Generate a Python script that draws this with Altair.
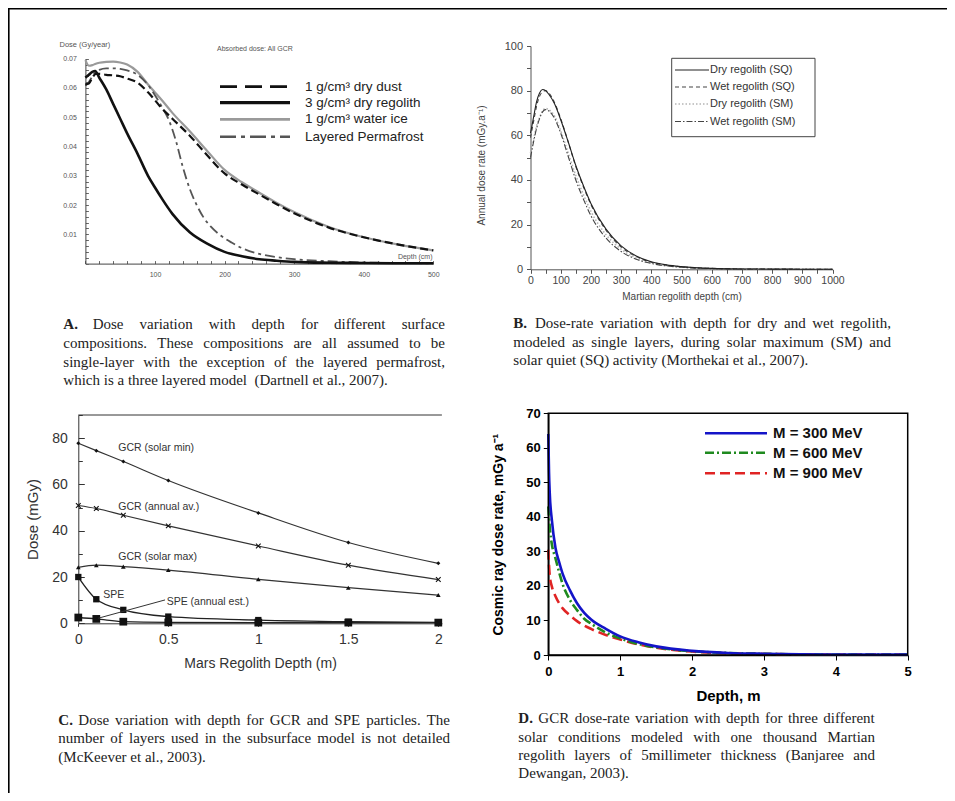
import altair as alt
import pandas as pd

# ---------------- Panel A: depth (cm) vs dose (Gy/year) ----------------
a_dust_x = [0, 5, 10, 15, 20, 30, 40, 50, 60, 75, 90, 100, 110, 125, 150, 175, 200, 225, 250, 275, 300, 350, 400, 450, 500]
a_dust_y = [0.0612, 0.0615, 0.0635, 0.0648, 0.0648, 0.0645, 0.0643, 0.064, 0.0632, 0.0618, 0.0585, 0.0558, 0.053, 0.0495,
            0.0437, 0.037, 0.0308, 0.027, 0.0236, 0.0203, 0.0172, 0.0123, 0.009, 0.0065, 0.0045]
a_reg_x = [0, 5, 10, 14, 20, 30, 40, 50, 60, 75, 90, 100, 110, 125, 150, 175, 200, 225, 250, 275, 300, 350, 400, 450, 500]
a_reg_y = [0.0635, 0.0645, 0.0655, 0.0658, 0.0635, 0.0595, 0.0545, 0.0495, 0.0445, 0.0375, 0.030, 0.026, 0.0222, 0.017,
           0.0107, 0.0068, 0.004, 0.0025, 0.0015, 0.001, 0.0006, 0.0003, 0.0002, 0.0001, 0.0001]
a_ice_x = [0, 5, 10, 15, 20, 30, 40, 50, 60, 75, 90, 100, 110, 125, 150, 175, 200, 225, 250, 275, 300, 350, 400, 450, 500]
a_ice_y = [0.0695, 0.0676, 0.0678, 0.0683, 0.0686, 0.0689, 0.069, 0.0687, 0.068, 0.0655, 0.0612, 0.0585, 0.0558, 0.0515,
           0.0452, 0.0385, 0.032, 0.0278, 0.0242, 0.0207, 0.0176, 0.0125, 0.009, 0.0065, 0.0045]
a_perm_x = [0, 5, 10, 15, 20, 30, 40, 50, 60, 75, 90, 100, 110, 120, 130, 140, 150, 160, 170, 180, 195, 210, 225, 250,
            275, 300, 350, 400, 450, 500]
a_perm_y = [0.0608, 0.062, 0.064, 0.0655, 0.0662, 0.0667, 0.0667, 0.0665, 0.066, 0.0645, 0.061, 0.0575, 0.0535, 0.049,
            0.042, 0.033, 0.0255, 0.020, 0.0157, 0.0127, 0.0095, 0.0072, 0.0053, 0.0033, 0.0022, 0.0015, 0.0008, 0.0004,
            0.0002, 0.0001]
a_labels = ["1 g/cm\u00b3 dry dust", "3 g/cm\u00b3 dry regolith", "1 g/cm\u00b3 water ice", "Layered Permafrost"]

# ---------------- Panel B: depth (cm) vs annual dose rate ----------------
b_x = [0, 10, 20, 30, 40, 50, 60, 80, 100, 125, 150, 175, 200, 250, 300, 350, 400, 450, 500, 600, 700, 800, 900, 1000]
b_dry_sq = [61, 68, 75, 79, 80.5, 80, 78.5, 74, 67, 57, 46.5, 37.5, 29.5, 18, 10.5, 6, 3.4, 2, 1.2, 0.4, 0.15, 0.1, 0.05, 0.05]
b_wet_sq = [59, 66, 73, 77.5, 79.5, 80, 79, 74.5, 67.5, 57, 46, 37, 29, 17.5, 10, 5.7, 3.2, 1.9, 1.1, 0.4, 0.15, 0.1, 0.05, 0.05]
b_dry_sm = [52, 58, 64, 68, 71, 72, 71.5, 68.5, 62, 52, 42, 33.5, 26, 15.5, 9, 5, 2.9, 1.7, 1, 0.35, 0.1, 0.05, 0.05, 0.05]
b_wet_sm = [50, 57, 63, 67.5, 70.5, 71.5, 71, 67.5, 61, 50.5, 40, 31.5, 24, 14, 8, 4.5, 2.6, 1.5, 0.9, 0.3, 0.1, 0.05, 0.05, 0.05]
b_labels = ["Dry regolith (SQ)", "Wet regolith (SQ)", "Dry regolith (SM)", "Wet regolith (SM)"]

# ---------------- Panel C: Mars regolith depth (m) vs dose (mGy) ----------------
c_x = [0, 0.1, 0.25, 0.5, 1, 1.5, 2]
c_gcr_min = [77.8, 74.6, 69.9, 61.7, 47.7, 34.9, 25.9]
c_gcr_avg = [50.9, 49.6, 46.7, 42.1, 33.4, 25.1, 18.9]
c_gcr_max = [24.2, 25.1, 24.5, 23.0, 19.0, 15.4, 12.2]
c_spe = [20.0, 10.4, 5.8, 2.9, 1.4, 0.7, 0.4]
c_spe_annual = [2.5, 1.9, 0.7, 0.4, 0.3, 0.3, 0.3]
c_notes = ["GCR (solar min)", "GCR (annual av.)", "GCR (solar max)", "SPE", "SPE (annual est.)"]
c_note_x = [0.222, 0.222, 0.222, 0.139, 0.491]
c_note_y = [75.7, 50.4, 28.8, 12.2, 9.3]
c_leader_x = [0.482, 0.111]
c_leader_y = [10.1, 2.2]

# ---------------- Panel D: depth (m) vs cosmic ray dose rate ----------------
d_x = [0, 0.01, 0.02, 0.05, 0.1, 0.15, 0.2, 0.3, 0.4, 0.5, 0.6, 0.8, 1.0, 1.25, 1.5, 2, 2.5, 3, 3.5, 4, 4.5, 5]
d_300 = [64, 53, 47, 39, 31, 27, 23.5, 18.8, 15, 12.2, 10.2, 7.6, 5.4, 3.7, 2.5, 1.2, 0.6, 0.35, 0.2, 0.15, 0.1, 0.1]
d_600 = [43, 40, 37, 32, 28, 24, 20.5, 16, 13, 10.5, 9, 6.5, 4.8, 3.2, 2.2, 1.1, 0.6, 0.35, 0.2, 0.15, 0.1, 0.1]
d_900 = [30.5, 26, 23, 19.8, 17, 15, 13.5, 11.5, 9.8, 8.5, 7.5, 5.8, 4.5, 3.1, 2.1, 1.0, 0.5, 0.3, 0.2, 0.1, 0.1, 0.1]
d_labels = ["M = 300 MeV", "M = 600 MeV", "M = 900 MeV"]

# ---------------- captions ----------------
cap_a = ["A.", "Dose variation with depth for different surface",
         "compositions. These compositions are all assumed to be",
         "single-layer with the exception of the layered permafrost,",
         "which is a three layered model  (Dartnell et al., 2007)."]
cap_b = ["B.", "Dose-rate variation with depth for dry and wet regolith,",
         "modeled as single layers, during solar maximum (SM) and",
         "solar quiet (SQ) activity (Morthekai et al., 2007)."]
cap_c = ["C.", "Dose variation with depth for GCR and SPE particles.  The",
         "number of layers used in the subsurface model is not detailed",
         "(McKeever et al., 2003)."]
cap_d = ["D.", "GCR dose-rate variation with depth for three different",
         "solar conditions modeled with one thousand Martian",
         "regolith layers of 5millimeter thickness  (Banjaree and",
         "Dewangan, 2003)."]

W, H = 939, 785
ONE = pd.DataFrame({"k": [0]})
SANS = "Liberation Sans"
SERIF = "Liberation Serif"

# Times-compatible advance widths (1/1000 em) used to justify the caption lines
_TW = {" ": 250, "(": 333, ")": 333, ",": 250, "-": 333, ".": 250, "A": 722, "B": 667, "C": 667, "D": 722,
       "E": 611, "G": 722, "K": 722, "M": 889, "P": 556, "Q": 722, "R": 667, "S": 556, "T": 611, "W": 944,
       "a": 444, "b": 500, "c": 444, "d": 500, "e": 444, "f": 333, "g": 500, "h": 500, "i": 278, "j": 278,
       "k": 500, "l": 278, "m": 778, "n": 500, "o": 500, "p": 500, "q": 500, "r": 333, "s": 389, "t": 278,
       "u": 500, "v": 500, "w": 722, "x": 500, "y": 500, "z": 444}


def tw(s, fs):
    return sum(_TW.get(ch, 500) for ch in s) * fs / 1000.0


def df(xs, ys):
    return pd.DataFrame({"x": xs, "y": ys})


def text_mark(s, x, y, size, color="#000", weight="normal", align="left", font=SANS, baseline="middle"):
    return alt.Chart(ONE).mark_text(text=s, font=font, fontSize=size, fontWeight=weight, color=color,
                                    align=align, baseline=baseline).encode(x=alt.value(x), y=alt.value(y))


def rule_mark(x1, x2, y1, y2, color, width, dash=None):
    kw = dict(color=color, strokeWidth=width)
    if dash:
        kw["strokeDash"] = dash
    return alt.Chart(ONE).mark_rule(**kw).encode(x=alt.value(x1), x2=alt.value(x2), y=alt.value(y1), y2=alt.value(y2))


def line(X, Y, xs, ys, color, width, dash=None):
    kw = dict(color=color, strokeWidth=width, interpolate="monotone")
    if dash:
        kw["strokeDash"] = dash
    return alt.Chart(df(xs, ys)).mark_line(**kw).encode(x=X, y=Y)


# ======================= Panel A =======================
A_x0, A_x1, A_y0, A_y1 = 77.4, 425.3, 255.6, 50.7
A_yaxis = alt.Axis(orient="right", offset=A_x0 - W, values=[round(0.002 * i, 3) for i in range(36)],
                   labelExpr="(round(datum.value*1000) % 10 == 0 && datum.value > 0) ? format(datum.value, '.2f') : ''",
                   tickSize=3, grid=False, domainColor="#444", tickColor="#666", labelColor="#555", labelFont=SANS,
                   labelFontSize=7, labelAlign="right", labelPadding=-12, labelOverlap=False, labelFlush=False,
                   title="Dose (Gy/year)", titleAngle=0, titleX=-26.4, titleY=36.7,
                   titleAlign="left", titleBaseline="middle", titleFont=SANS, titleFontSize=7.5,
                   titleFontWeight="normal", titleColor="#555")
A_xaxis = alt.Axis(orient="top", offset=-A_y0, values=list(range(0, 501, 20)),
                   labelExpr="(datum.value % 100 == 0 && datum.value > 0) ? datum.value : ''",
                   tickSize=3, grid=False, domainColor="#444", tickColor="#666", labelColor="#555", labelFont=SANS,
                   labelFontSize=7, labelBaseline="top", labelPadding=-10, labelOverlap=False, labelFlush=False,
                   title="Depth (cm)", titleAngle=0, titleX=424, titleY=-7,
                   titleAlign="right", titleBaseline="middle", titleFont=SANS, titleFontSize=7,
                   titleFontWeight="normal", titleColor="#555")
AX = alt.X("x:Q", scale=alt.Scale(domain=[0, 500], range=[A_x0, A_x1], nice=False, zero=False), axis=A_xaxis)
AY = alt.Y("y:Q", scale=alt.Scale(domain=[0, 0.07], range=[A_y0, A_y1], nice=False, zero=False), axis=A_yaxis)

a_styles = [("#111", 2.2, [8, 4]), ("#111", 2.6, None), ("#9a9a9a", 2.2, None), ("#555", 1.8, [10, 4, 3, 4])]
panel_a = alt.layer(
    line(AX, AY, a_ice_x, a_ice_y, *a_styles[2]),
    line(AX, AY, a_perm_x, a_perm_y, *a_styles[3]),
    line(AX, AY, a_dust_x, a_dust_y, *a_styles[0]),
    line(AX, AY, a_reg_x, a_reg_y, *a_styles[1]),
)
a_legend = []
a_leg_dash = [[17, 8], None, None, [16, 5, 4, 5]]
for i, lab in enumerate(a_labels):
    yy = [78.7, 94.7, 111.3, 128.7][i]
    col, wid, _ = a_styles[i]
    a_legend.append(rule_mark(212, 282, yy, yy, col, wid + 0.6, a_leg_dash[i]))
    a_legend.append(text_mark(lab, 297, yy, 13.5, "#222"))
a_legend.append(text_mark("Absorbed dose: All GCR", 209, 41, 7, "#555"))

# ======================= Panel B =======================
B_x0, B_x1, B_y0, B_y1 = 522.5, 824.5, 261.3, 38
B_yaxis = alt.Axis(orient="left", offset=-B_x0, values=list(range(0, 101, 10)),
                   labelExpr="datum.value % 20 == 0 ? datum.value : ''", labelOverlap=False, labelFlush=False,
                   tickSize=4, grid=False, domainColor="#555", tickColor="#555", labelColor="#444", labelFont=SANS,
                   labelFontSize=11, labelPadding=4, title="Annual dose rate (mGy.a\u207b\u00b9)", titleX=-44.5,
                   titleY=157, titleFont=SANS, titleFontSize=10, titleFontWeight="normal", titleColor="#444")
B_xaxis = alt.Axis(orient="bottom", offset=B_y0 - H, values=list(range(0, 1001, 50)),
                   labelExpr="datum.value % 100 == 0 ? datum.value : ''", labelOverlap=False, labelFlush=False,
                   tickSize=4, grid=False, domainColor="#555", tickColor="#555", labelColor="#444", labelFont=SANS,
                   labelFontSize=10.5, labelPadding=2, title="Martian regolith depth (cm)", titleY=26.7,
                   titleBaseline="middle", titleFont=SANS, titleFontSize=10, titleFontWeight="normal",
                   titleColor="#444")
BX = alt.X("x:Q", scale=alt.Scale(domain=[0, 1000], range=[B_x0, B_x1], nice=False, zero=False), axis=B_xaxis)
BY = alt.Y("y:Q", scale=alt.Scale(domain=[0, 100], range=[B_y0, B_y1], nice=False, zero=False), axis=B_yaxis)
b_styles = [("#222", 1.1, None), ("#444", 1.1, [4, 3]), ("#b5b5b5", 1.6, [1.5, 2]), ("#444", 1.1, [6, 2, 1.5, 2])]
panel_b = alt.layer(
    line(BX, BY, b_x, b_dry_sm, *b_styles[2]),
    line(BX, BY, b_x, b_wet_sm, *b_styles[3]),
    line(BX, BY, b_x, b_wet_sq, *b_styles[1]),
    line(BX, BY, b_x, b_dry_sq, *b_styles[0]),
)
b_legend = [alt.Chart(ONE).mark_rect(fill="white", stroke="#444", strokeWidth=1).encode(
    x=alt.value(663.7), x2=alt.value(807), y=alt.value(50.3), y2=alt.value(128.7))]
for i, lab in enumerate(b_labels):
    yy = [62, 79, 96, 113.5][i]
    col, wid, dash = b_styles[i]
    b_legend.append(rule_mark(667, 701, yy, yy, col, wid, dash))
    b_legend.append(text_mark(lab, 702, yy, 11, "#333"))

# ======================= Panel C =======================
C_x0, C_x1, C_y0, C_y1 = 70.3, 433.9, 615.3, 407
C_yaxis = alt.Axis(orient="right", offset=C_x0 - W, values=list(range(0, 91, 10)),
                   labelExpr="datum.value % 20 == 0 ? datum.value : ''", labelOverlap=False, labelFlush=False,
                   tickSize={"condition": {"test": "datum.value % 20 == 0", "value": 6}, "value": 4},
                   grid=False, domainColor="#333", tickColor="#333", labelColor="#333", labelFont=SANS,
                   labelFontSize=14, labelAlign="right", labelPadding=-17, title="Dose (mGy)", titleX=-38.3,
                   titleAngle=270, titleBaseline="bottom", titleAlign="center", titleY=511,
                   titleFont=SANS, titleFontSize=15, titleFontWeight="normal", titleColor="#333")
C_xaxis = alt.Axis(orient="bottom", offset=C_y0 - H, values=[0, 0.5, 1, 1.5, 2], format="~g", labelFlush=False,
                   tickSize=3, grid=False, domainColor="#333", tickColor="#333", labelColor="#333", labelFont=SANS,
                   labelFontSize=14, labelPadding=6, title="Mars Regolith Depth (m)", titleY=40,
                   titleBaseline="middle", titleFont=SANS, titleFontSize=14, titleFontWeight="normal",
                   titleColor="#333")
CX = alt.X("x:Q", scale=alt.Scale(domain=[0, 2.02], range=[C_x0, C_x1], nice=False, zero=False), axis=C_xaxis)
CY = alt.Y("y:Q", scale=alt.Scale(domain=[0, 90], range=[C_y0, C_y1], nice=False, zero=False), axis=C_yaxis)


def c_points(ys, shape, size, filled=True):
    kw = dict(shape=shape, size=size, filled=filled, color="#111", opacity=1)
    if not filled:
        kw["strokeWidth"] = 1.1
    return alt.Chart(df(c_x, ys)).mark_point(**kw).encode(x=CX, y=CY)


CROSS = "M-1,-1L1,1M-1,1L1,-1"
panel_c = alt.layer(
    line(CX, CY, c_x, c_gcr_min, "#333", 1.2),
    line(CX, CY, c_x, c_gcr_avg, "#333", 1.2),
    line(CX, CY, c_x, c_gcr_max, "#333", 1.2),
    line(CX, CY, c_x, c_spe, "#222", 1.3),
    line(CX, CY, c_x, c_spe_annual, "#222", 1.3),
    c_points(c_gcr_min, "diamond", 16),
    c_points(c_gcr_avg, CROSS, 22, filled=False),
    c_points(c_gcr_max, "triangle-up", 22),
    c_points(c_spe, "square", 40),
    c_points(c_spe_annual, "square", 60),
    alt.Chart(df(c_leader_x, c_leader_y)).mark_line(color="#333", strokeWidth=1).encode(x=CX, y=CY),
    alt.Chart(pd.DataFrame({"x": c_note_x, "y": c_note_y, "t": c_notes})).mark_text(
        font=SANS, fontSize=10.5, color="#333", align="left", baseline="middle").encode(x=CX, y=CY, text="t:N"),
)
c_frame = [rule_mark(C_x0, C_x1, C_y1, C_y1, "#333", 1)]

# ======================= Panel D =======================
D_x0, D_x1, D_y0, D_y1 = 540.3, 899.7, 647, 405.3
D_yaxis = alt.Axis(orient="left", offset=-D_x0, values=list(range(0, 71, 10)), labelFlush=False,
                   tickSize=5, grid=False, domainColor="#000", domainWidth=1.5, tickColor="#000", labelColor="#000",
                   labelFont=SANS, labelFontSize=13, labelFontWeight="bold", labelPadding=3,
                   title="Cosmic ray dose rate, mGy a\u207b\u00b9", titleX=-43.3, titleFont=SANS, titleFontSize=14,
                   titleFontWeight="bold", titleColor="#000")
D_xaxis = alt.Axis(orient="bottom", offset=D_y0 - H, values=[0, 1, 2, 3, 4, 5], labelFlush=False,
                   tickSize=5, grid=False, domainColor="#000", domainWidth=1.5, tickColor="#000", labelColor="#000",
                   labelFont=SANS, labelFontSize=13, labelFontWeight="bold", labelPadding=5, title="Depth, m",
                   titleY=40, titleBaseline="middle", titleFont=SANS, titleFontSize=15, titleFontWeight="bold",
                   titleColor="#000")
DX = alt.X("x:Q", scale=alt.Scale(domain=[0, 5], range=[D_x0, D_x1], nice=False, zero=False), axis=D_xaxis)
DY = alt.Y("y:Q", scale=alt.Scale(domain=[0, 70], range=[D_y0, D_y1], nice=False, zero=False), axis=D_yaxis)
d_styles = [("#1414c8", 2.6, None), ("#1f8a1f", 2.6, [9, 3, 2, 3]), ("#e02424", 2.6, [10, 5])]
panel_d = alt.layer(
    line(DX, DY, d_x, d_900, *d_styles[2]),
    line(DX, DY, d_x, d_600, *d_styles[1]),
    line(DX, DY, d_x, d_300, *d_styles[0]),
)
d_extra = [alt.Chart(ONE).mark_rect(fill="transparent", stroke="#000", strokeWidth=1.5).encode(
    x=alt.value(D_x0), x2=alt.value(D_x1), y=alt.value(D_y1), y2=alt.value(D_y0))]
for i, lab in enumerate(d_labels):
    yy = [425.3, 444.7, 465.3][i]
    col, wid, dash = d_styles[i]
    d_extra.append(rule_mark(697, 759, yy, yy, col, wid, dash))
    d_extra.append(text_mark(lab, 765, yy, 15, "#111", weight="bold"))

# ======================= captions (justified, word by word) =======================
CAP_FS = 15
bold_rows, word_rows = [], []


def add_caption(lines, x0, dx, ys, right):
    bold_rows.append({"w": lines[0], "px": x0, "py": ys[0]})
    body = lines[1:]
    for i, (ln, yy) in enumerate(zip(body, ys)):
        start = x0 + dx if i == 0 else x0
        last = i == len(body) - 1
        if last:
            x = start
            for tok in ln.split(" "):
                if tok:
                    word_rows.append({"w": tok, "px": x, "py": yy})
                    x += tw(tok, CAP_FS)
                x += tw(" ", CAP_FS)
        else:
            words = ln.split()
            widths = [tw(w, CAP_FS) for w in words]
            gap = (right - start - sum(widths)) / (len(words) - 1)
            x = start
            for w, wd in zip(words, widths):
                word_rows.append({"w": w, "px": x, "py": yy})
                x += wd + gap


add_caption(cap_a, 55.3, 29.4, [316, 335, 353.7, 372.3], 437)
add_caption(cap_b, 505.3, 21.7, [315.3, 333.7, 352.3], 883)
add_caption(cap_c, 50.3, 20, [712, 730.3, 748.7], 442)
add_caption(cap_d, 510.3, 20, [710.3, 728.7, 747, 765.3], 867)

PX = alt.X("px:Q", scale=None, axis=None)
PY = alt.Y("py:Q", scale=None, axis=None)
captions = [
    alt.Chart(pd.DataFrame(bold_rows)).mark_text(font=SERIF, fontSize=CAP_FS, fontWeight="bold", color="#222",
                                                 align="left", baseline="middle").encode(x=PX, y=PY, text="w:N"),
    alt.Chart(pd.DataFrame(word_rows)).mark_text(font=SERIF, fontSize=CAP_FS, color="#222",
                                                 align="left", baseline="middle").encode(x=PX, y=PY, text="w:N"),
]

# outer frame: only the top and left edges are inside the reference's crop
border = [rule_mark(0, W, 0.8, 0.8, "#000", 1.6), rule_mark(0.8, 0.8, 0, H, "#000", 1.6)]

chart = alt.layer(
    *border,
    panel_a, *a_legend,
    panel_b, *b_legend,
    panel_c, *c_frame,
    panel_d, *d_extra,
    *captions,
).resolve_scale(x="independent", y="independent").properties(
    width=W, height=H, padding=0, autosize=alt.AutoSizeParams(type="none"),
    background="white", view=alt.ViewBackground(stroke="transparent", strokeWidth=0),
).configure_view(strokeWidth=0, stroke="transparent")

chart.save("out.html", embed_options={"renderer": "svg", "actions": False})
